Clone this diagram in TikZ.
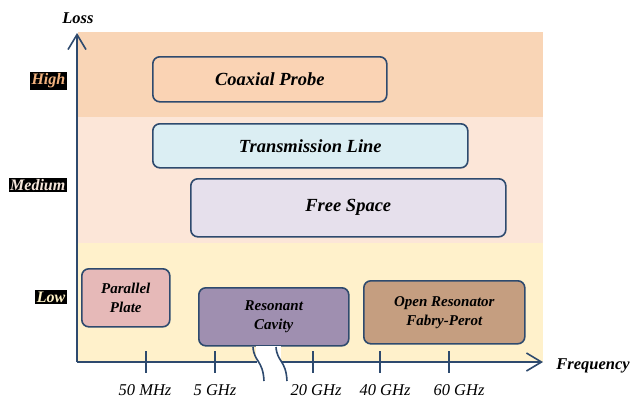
\documentclass[tikz,border=0pt]{standalone}
\usepackage{fontspec}
\setmainfont{Liberation Serif}
\usetikzlibrary{arrows.meta}
\definecolor{axisc}{HTML}{2E4A6E}
\definecolor{bandhigh}{HTML}{F9D5B6}
\definecolor{bandmed}{HTML}{FCE6D8}
\definecolor{bandlow}{HTML}{FFF1CB}
\definecolor{fcoax}{HTML}{FAD3B4}
\definecolor{ftrans}{HTML}{DBEEF3}
\definecolor{ffree}{HTML}{E6E0EC}
\definecolor{fpar}{HTML}{E6B9B8}
\definecolor{fres}{HTML}{9F8FB0}
\definecolor{fopen}{HTML}{C59E80}
\definecolor{thigh}{HTML}{F2B27E}
\definecolor{tmed}{HTML}{F5E6DA}
\definecolor{tlow}{HTML}{FFF2C6}
\begin{document}
\begin{tikzpicture}[x=1pt,y=-1pt,
  tech/.style={draw=axisc, line width=1.6pt, rounded corners=7pt, font=\bfseries\itshape\fontsize{18.5}{20}\selectfont, align=center, inner sep=0pt},
  smalltech/.style={tech, font=\bfseries\itshape\fontsize{15}{19}\selectfont},
  lvl/.style={fill=black, font=\bfseries\itshape\fontsize{16}{18}\selectfont, inner sep=1.5pt},
  axlbl/.style={font=\bfseries\itshape\fontsize{16.5}{18}\selectfont},
  ticklbl/.style={font=\itshape\fontsize{16.5}{18}\selectfont, inner sep=1pt},
  axline/.style={draw=axisc, line width=1.8pt},
  tick/.style={draw=axisc, line width=1.6pt},
  tip/.style={-{Straight Barb[length=15pt,width=18pt,line width=1.6pt]}}
]
\useasboundingbox (0,0) rectangle (632,399);
% bands
\fill[bandhigh] (78,32) rectangle (543,117);
\fill[bandmed] (78,117) rectangle (543,243);
\fill[bandlow] (78,243) rectangle (543,362);
% tech boxes
\node[tech, fill=fcoax, minimum width=234pt, minimum height=45pt, anchor=north west] (coax) at (152,56) {Coaxial Probe};
\node[tech, fill=ftrans, minimum width=315pt, minimum height=44pt, anchor=north west] (trans) at (152,123) {Transmission Line};
\node[tech, fill=ffree, minimum width=315pt, minimum height=58pt, anchor=north west] (free) at (190,178) {Free Space};
\node[smalltech, fill=fpar, minimum width=88pt, minimum height=58pt, anchor=north west] (par) at (81,268) {Parallel\\Plate};
\node[smalltech, fill=fres, minimum width=150pt, minimum height=58pt, anchor=north west] (res) at (198,287) {Resonant\\Cavity};
\node[smalltech, fill=fopen, minimum width=161pt, minimum height=63pt, anchor=north west] (open) at (363,280) {Open Resonator\\Fabry-Perot};
% break gap
\fill[white] (256,346) rectangle (281,364);
% axes
\coordinate (origin) at (77,362);
\coordinate (ytop) at (77,33);
\coordinate (xend) at (543,362);
\draw[axline, tip] (origin) -- (ytop);
\draw[axline] (origin) -- (257,362);
\draw[axline, tip] (282,362) -- (xend);
% break curves
\coordinate (b1s) at (253,347);
\coordinate (b1e) at (264,381);
\coordinate (b2s) at (276,347);
\coordinate (b2e) at (287,381);
\draw[tick] (b1s) .. controls (254,362) and (263,360) .. (b1e);
\draw[tick] (b2s) .. controls (277,362) and (286,360) .. (b2e);
% ticks
\foreach \x in {146,215,313,380,449}{
  \draw[tick] (\x,351) -- (\x,373);
}
\node[ticklbl] (l1) at (145,390) {50 MHz};
\node[ticklbl] (l2) at (215,390) {5 GHz};
\node[ticklbl] (l3) at (316,390) {20 GHz};
\node[ticklbl] (l4) at (385,390) {40 GHz};
\node[ticklbl] (l5) at (459,390) {60 GHz};
% axis labels
\node[axlbl] (loss) at (78,18) {Loss};
\node[axlbl] (freq) at (593,366) {Frequency};
% level labels
\node[lvl, text=thigh, anchor=east] (high) at (67,81) {High};
\node[lvl, text=tmed, anchor=east] (med) at (67,185) {Medium};
\node[lvl, text=tlow, anchor=east] (low) at (67,297) {Low};
\end{tikzpicture}
\end{document}
